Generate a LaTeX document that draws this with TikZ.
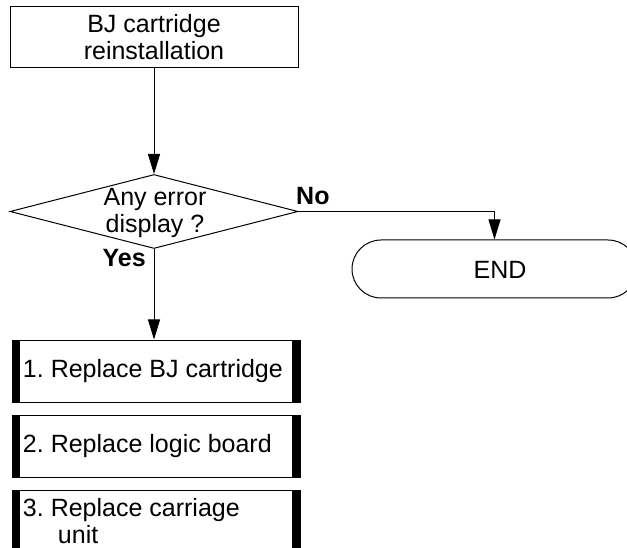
\documentclass[tikz,border=0pt]{standalone}
\usepackage{fontspec}
\setmainfont{Liberation Sans}
\usetikzlibrary{shapes.geometric,arrows.meta}
\frenchspacing
\begin{document}
\begin{tikzpicture}[x=1pt,y=-1pt,
  every node/.style={font=\fontsize{25}{27}\selectfont},
  ln/.style={line width=1pt},
  arr/.style={ln,-{Triangle[length=20pt,width=12pt]}},
  plainbox/.style={draw,ln,rectangle,minimum width=288pt,minimum height=61pt,inner sep=0pt,align=center},
  decbox/.style={draw,ln,diamond,minimum width=288pt,minimum height=74pt,inner sep=0pt,aspect=3.9},
  endbox/.style={draw,ln,rectangle,rounded corners=29pt,minimum width=285pt,minimum height=58pt,inner sep=0pt},
  stepbox/.style={draw,ln,rectangle,minimum width=288pt,inner sep=0pt,text width=266pt,align=flush left,
    path picture={\fill (path picture bounding box.north west) rectangle ([xshift=8pt]path picture bounding box.south west);
                  \fill ([xshift=-8pt]path picture bounding box.north east) rectangle (path picture bounding box.south east);}},
  lbl/.style={font=\fontsize{25}{27}\selectfont\bfseries,inner sep=0pt}
]
\useasboundingbox (0,0) rectangle (627,548);
\node[plainbox] (start) at (154,37.5) {BJ cartridge\\reinstallation};
\node[decbox] (dec) at (154,211.5) {};
\node[align=center,inner sep=0pt] (dectext) at (155,213) {Any error\\display ?};
\node[endbox] (end) at (494.5,269) {};
\node[inner sep=0pt] (endtext) at (500,270) {END};
\node[stepbox,minimum height=62pt] (b1) at (156,371) {1. Replace BJ cartridge};
\node[stepbox,minimum height=62pt] (b2) at (156,446) {2. Replace logic board};
\node[stepbox,minimum height=63pt] (b3) at (156,521.5) {3. Replace carriage\\\hspace*{35pt}unit};
\node[lbl,anchor=base west] (no) at (296,205) {No};
\node[lbl,anchor=base east] (yes) at (146,267) {Yes};
\draw[arr] (start.south) -- (dec.north);
\draw[arr] (dec.east) -| (end.north);
\draw[arr] (dec.south) -- (dec.south |- b1.north);
\end{tikzpicture}
\end{document}
